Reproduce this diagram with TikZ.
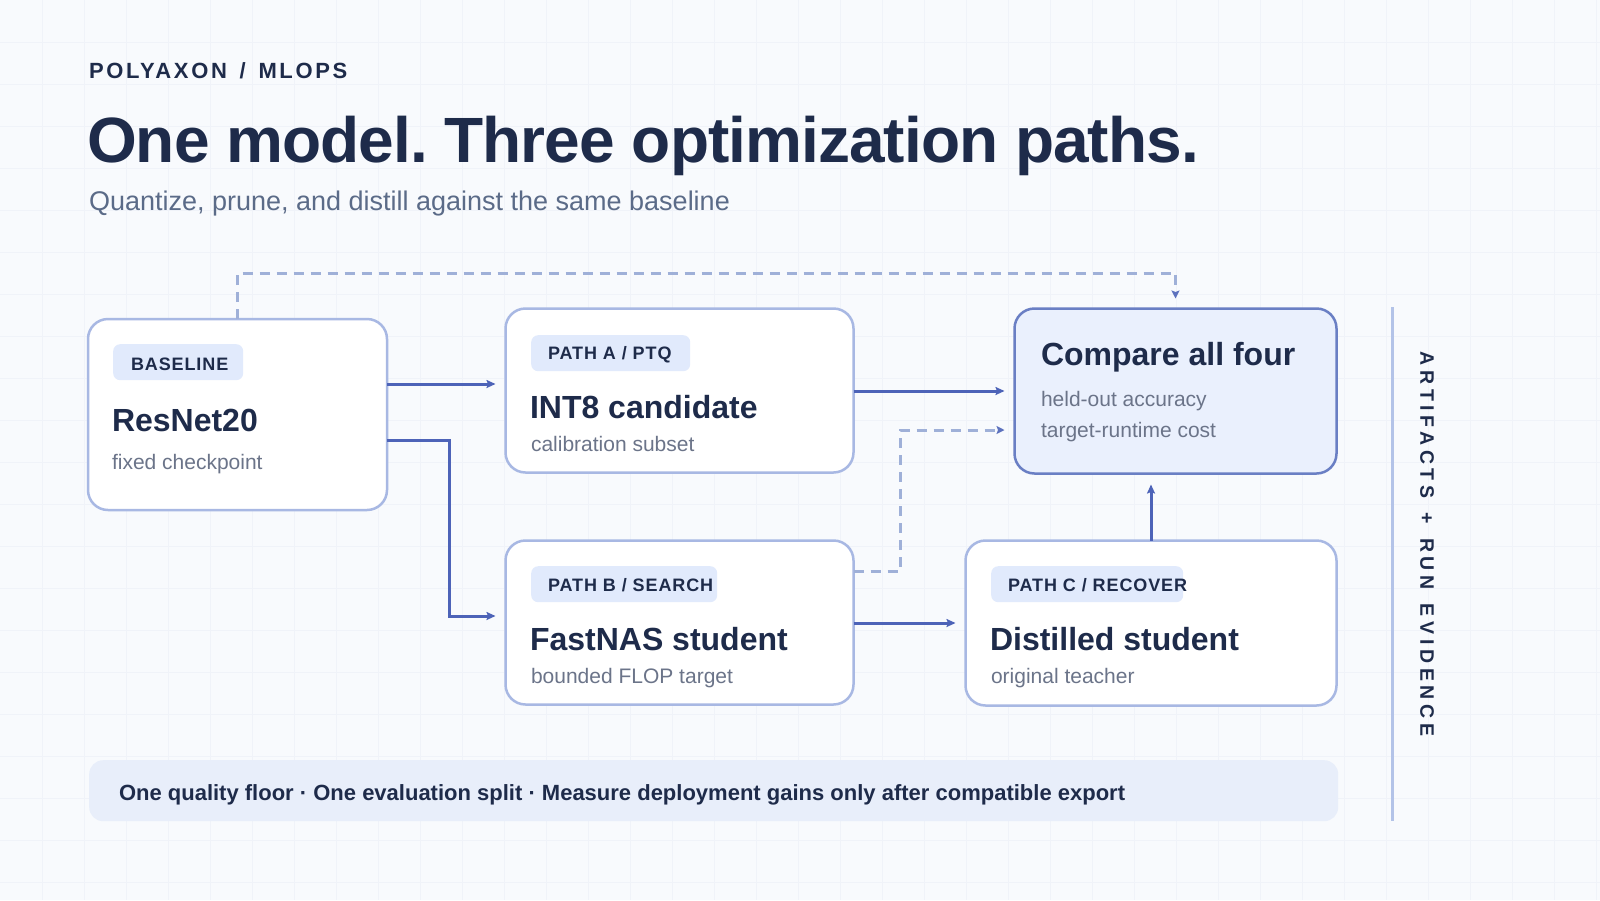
\documentclass[tikz,border=0pt]{standalone}
\usepackage{fontspec}
\setmainfont{Liberation Sans}
\newfontfamily\spacedA[LetterSpace=12]{Liberation Sans}
\newfontfamily\spacedB[LetterSpace=5]{Liberation Sans}
\newfontfamily\spacedC[LetterSpace=24]{Liberation Sans}
\newfontfamily\tightfont[LetterSpace=-1.5]{Liberation Sans}
\usetikzlibrary{arrows.meta}
\frenchspacing
\definecolor{bg}{HTML}{F8FAFD}
\definecolor{gridc}{HTML}{F0F3F9}
\definecolor{navy}{HTML}{1E2B4A}
\definecolor{subgray}{HTML}{5B6B88}
\definecolor{cardsub}{HTML}{6B7489}
\definecolor{cardborder}{HTML}{A8B8E3}
\definecolor{cmpborder}{HTML}{6A7FC4}
\definecolor{cmpfill}{HTML}{EAF0FD}
\definecolor{badgefill}{HTML}{E1EAFC}
\definecolor{solidc}{HTML}{4D63B8}
\definecolor{dashc}{HTML}{9FB0D8}
\definecolor{barfill}{HTML}{E8EEFA}
\definecolor{vline}{HTML}{B3C3E8}
\tikzset{
  txt/.style={anchor=base west, inner sep=0pt, outer sep=0pt},
  card/.style={draw=cardborder, line width=2.5pt, fill=white, rounded corners=20pt, inner sep=0pt, outer sep=0pt},
  badge/.style={fill=badgefill, rounded corners=7pt, anchor=north west, inner sep=0pt, minimum height=36pt},
  solidarrow/.style={draw=solidc, line width=3pt, -{Stealth[length=9pt,width=8pt,inset=1.5pt]}, shorten >=10pt},
  dasharrow/.style={draw=dashc, line width=3pt, dash pattern=on 10pt off 7pt, -{Stealth[length=8pt,width=8pt,inset=1.5pt,color=solidc!80!dashc]}, shorten >=10pt},
  badgetext/.style={txt, text=navy, font=\spacedB\bfseries\fontsize{18}{20}\selectfont},
  cardtitle/.style={txt, text=navy, font=\bfseries\fontsize{32}{36}\selectfont},
  cardsubt/.style={txt, text=cardsub, font=\fontsize{21}{24}\selectfont},
}
\begin{document}
\begin{tikzpicture}[x=1pt,y=-1pt]
\useasboundingbox (0,0) rectangle (1600,900);
\fill[bg] (0,0) rectangle (1600,900);
\foreach \gx in {42,84,...,1600} \draw[gridc, line width=1pt] (\gx,0) -- (\gx,900);
\foreach \gy in {42,84,...,900} \draw[gridc, line width=1pt] (0,\gy) -- (1600,\gy);

% header
\node[txt, text=navy, font=\spacedA\bfseries\fontsize{22}{26}\selectfont] (kicker) at (89,78) {POLYAXON\hspace{4pt} / \hspace{4pt}MLOPS};
\node[txt, text=navy, font=\tightfont\bfseries\fontsize{64}{70}\selectfont] (title) at (87,162) {One model. Three optimization paths.};
\node[txt, text=subgray, font=\fontsize{27}{30}\selectfont] (subtitle) at (89,210) {Quantize, prune, and distill against the same baseline};

% coordinates for connectors
\coordinate (yA) at (0,384);
\coordinate (yB) at (0,440);
\coordinate (tB1) at (449,440);
\coordinate (tB2) at (449,616);
\coordinate (yC) at (0,616);
\coordinate (topY) at (0,273);
\coordinate (yE) at (0,571);
\coordinate (tE1) at (900,571);
\coordinate (tE2) at (900,430);
\coordinate (yG) at (0,430);
\coordinate (yH) at (0,391);
\coordinate (yI) at (0,623);

% cards
\node[card, minimum width=299pt, minimum height=191pt] (base) at (237.5,414.5) {};
\node[card, minimum width=348pt, minimum height=164pt] (pa) at (679.5,390.5) {};
\node[card, draw=cmpborder, fill=cmpfill, minimum width=322pt, minimum height=165pt] (cmp) at (1175.5,391) {};
\node[card, minimum width=348pt, minimum height=164pt] (pb) at (679.5,622.5) {};
\node[card, minimum width=371pt, minimum height=165pt] (pc) at (1151,623) {};

% connectors
\draw[dasharrow] (base.north) -- (base.north |- topY) -- (cmp.north |- topY) -- (cmp.north);
\draw[solidarrow] (base.east |- yA) -- (pa.west |- yA);
\draw[solidarrow] (base.east |- yB) -- (tB1) -- (tB2) -- (pb.west |- yC);
\draw[solidarrow] (pa.east |- yH) -- (cmp.west |- yH);
\draw[dasharrow] (pb.east |- yE) -- (tE1) -- (tE2) -- (cmp.west |- yG);
\draw[solidarrow] (pb.east |- yI) -- (pc.west |- yI);
\draw[solidarrow, shorten >=11pt] (pc.north) -- (cmp.south -| pc.north);

% baseline card content
\node[badge, minimum width=130pt] (bBadge) at (113,344) {};
\node[badgetext] (bBadgeT) at (131,370) {BASELINE};
\node[cardtitle] (bTitle) at (112,431) {ResNet20};
\node[cardsubt] (bSub) at (112,469) {fixed checkpoint};

% path A
\node[badge, minimum width=159pt] (aBadge) at (531,335) {};
\node[badgetext] (aBadgeT) at (548,359) {PATH A / PTQ};
\node[cardtitle] (aTitle) at (530,418) {INT8 candidate};
\node[cardsubt] (aSub) at (531,451) {calibration subset};

% compare
\node[cardtitle] (cTitle) at (1041,365) {Compare all four};
\node[cardsubt] (cSub1) at (1041,406) {held-out accuracy};
\node[cardsubt] (cSub2) at (1041,437) {target-runtime cost};

% path B
\node[badge, minimum width=186pt] (pbBadge) at (531,566) {};
\node[badgetext] (pbBadgeT) at (548,591) {PATH B / SEARCH};
\node[cardtitle] (pbTitle) at (530,650) {FastNAS student};
\node[cardsubt] (pbSub) at (531,683) {bounded FLOP target};

% path C
\node[badge, minimum width=192pt] (pcBadge) at (991,566) {};
\node[badgetext] (pcBadgeT) at (1008,591) {PATH C / RECOVER};
\node[cardtitle] (pcTitle) at (990,650) {Distilled student};
\node[cardsubt] (pcSub) at (991,683) {original teacher};

% bottom bar
\node[fill=barfill, rounded corners=14pt, minimum width=1249pt, minimum height=61pt, inner sep=0pt, anchor=north west] (bar) at (89,760) {};
\node[txt, text=navy, font=\bfseries\fontsize{22}{24}\selectfont] (barT) at (119,800) {One quality floor · One evaluation split · Measure deployment gains only after compatible export};

% right rail
\coordinate (railTop) at (1392,307);
\coordinate (railBot) at (1392,821);
\draw[vline, line width=3pt] (railTop) -- (railBot);
\node[text=navy, font=\spacedC\bfseries\fontsize{19.5}{22}\selectfont, rotate=-90, inner sep=0pt] (rail) at (1427,544) {ARTIFACTS\hspace{4pt} + \hspace{4pt}RUN\hspace{4pt} EVIDENCE};
\end{tikzpicture}
\end{document}
